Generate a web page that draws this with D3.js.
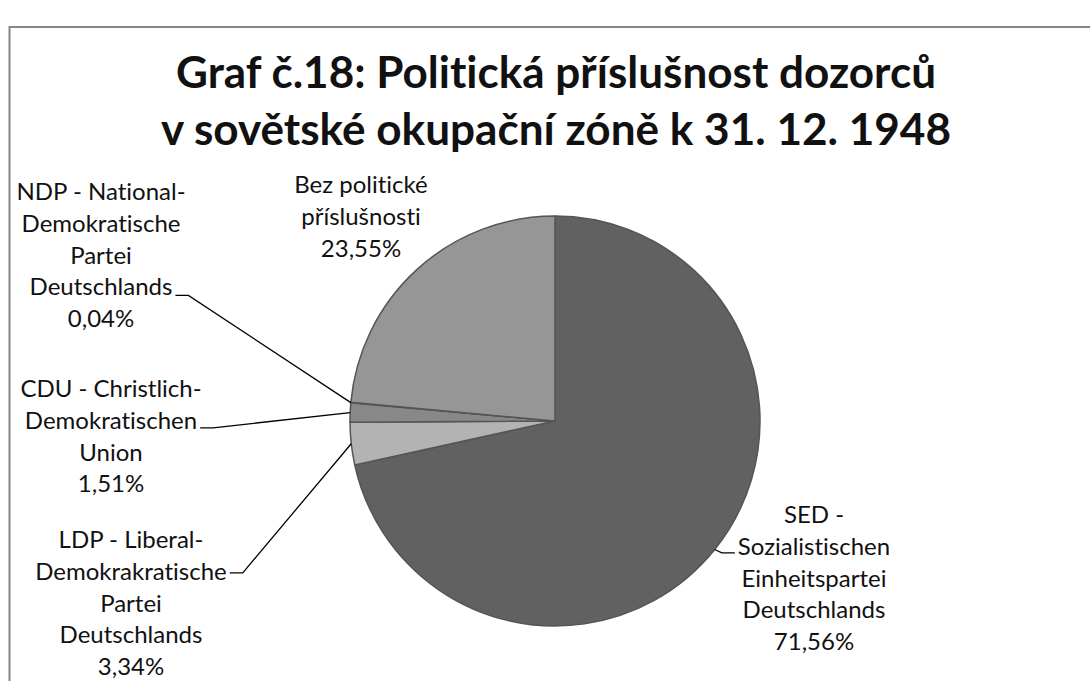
<!DOCTYPE html>
<html>
<head>
<meta charset="utf-8">
<script src="https://cdn.jsdelivr.net/npm/d3@7"></script>
<style>
  body { margin: 0; background: #fff; }
  svg { display: block; font-family: Lato, "Open Sans", sans-serif; font-variant-ligatures: none; }
</style>
</head>
<body>
<svg id="chart"></svg>
<script>
// data
const categories = [
  "SED - Sozialistischen Einheitspartei Deutschlands",
  "LDP - Liberal-Demokrakratische Partei Deutschlands",
  "CDU - Christlich-Demokratischen Union",
  "NDP - National-Demokratische Partei Deutschlands",
  "Bez politické příslušnosti"
];
const values = [71.56, 3.34, 1.51, 0.04, 23.55];
const labelLines = [
  ["SED -", "Sozialistischen", "Einheitspartei", "Deutschlands"],
  ["LDP - Liberal-", "Demokrakratische", "Partei", "Deutschlands"],
  ["CDU - Christlich-", "Demokratischen", "Union"],
  ["NDP - National-", "Demokratische", "Partei", "Deutschlands"],
  ["Bez politické", "příslušnosti"]
];
const titleLines = ["Graf č.18: Politická příslušnost dozorců", "v sovětské okupační zóně k 31. 12. 1948"];
const colors = ["#616161", "#b3b3b3", "#888888", "#7d7d7d", "#969696"];

const width = 1090, height = 681;
const cx = 555, cy = 421, radius = 205;
const lineH = 31.8;

// label placement: centre x, first baseline, which line carries the leader, side of leader
const labelPos = [
  { x: 814, y: 523, lead: 1, side: "left", dy: -2 },
  { x: 131, y: 548, lead: 1, side: "right", dy: -7 },
  { x: 111, y: 397, lead: 1, side: "right", dy: -1 },
  { x: 101, y: 200, lead: 3, side: "right", dy: 0 },
  { x: 361, y: 193, lead: -1 }
];

const svg = d3.select("#chart").attr("width", width).attr("height", height);

// chart frame (runs off the right and bottom edge)
svg.append("rect")
  .attr("x", 9.5).attr("y", 27)
  .attr("width", 1200).attr("height", 800)
  .attr("fill", "none").attr("stroke", "#868686").attr("stroke-width", 2);

svg.append("g").selectAll("text")
  .data(titleLines)
  .join("text")
  .attr("x", 556)
  .attr("y", (d, i) => 88 + i * 57)
  .attr("text-anchor", "middle")
  .attr("font-size", 43)
  .attr("font-weight", "bold")
  .attr("fill", "#111")
  .attr("textLength", (d, i) => i === 0 ? 760 : 790)
  .attr("lengthAdjust", "spacingAndGlyphs")
  .text(d => d);

const pie = d3.pie().sort(null).startAngle(0).endAngle(2 * Math.PI);
const arcs = pie(values);
const arc = d3.arc().innerRadius(0).outerRadius(radius);
const edge = d3.arc().innerRadius(radius).outerRadius(radius);

const g = svg.append("g").attr("transform", `translate(${cx},${cy})`);
g.selectAll("path")
  .data(arcs)
  .join("path")
  .attr("d", arc)
  .attr("fill", (d, i) => colors[i])
  .attr("stroke", "#555")
  .attr("stroke-width", 1.5)
  .attr("stroke-linejoin", "round")
  .append("title").text((d, i) => categories[i]);

const fmt = v => d3.format(".2f")(v).replace(".", ",") + "%";

const labels = svg.append("g").attr("font-size", 24).attr("fill", "#111");
arcs.forEach((d, i) => {
  const p = labelPos[i];
  const lines = labelLines[i].concat([fmt(values[i])]);
  const t = labels.append("g");
  const texts = t.selectAll("text")
    .data(lines)
    .join("text")
    .attr("x", p.x)
    .attr("y", (s, j) => p.y + j * lineH)
    .attr("text-anchor", "middle")
    .text(s => s);

  if (p.lead >= 0) {
    const node = texts.nodes()[p.lead];
    const w = node.getComputedTextLength();
    const ly = p.y + p.lead * lineH + p.dy;
    const c = edge.centroid(d);
    const px = cx + c[0], py = cy + c[1];
    let pts;
    if (p.side === "right") {
      const x0 = p.x + w / 2 + 3;
      pts = [[x0, ly], [x0 + 13, ly], [px, py]];
    } else {
      const x0 = p.x - w / 2 - 3;
      pts = [[x0, ly], [x0 - 13, ly], [px, py]];
    }
    svg.append("path")
      .attr("d", d3.line()(pts))
      .attr("fill", "none")
      .attr("stroke", "#000")
      .attr("stroke-width", 1.3);
  }
});
</script>
</body>
</html>
